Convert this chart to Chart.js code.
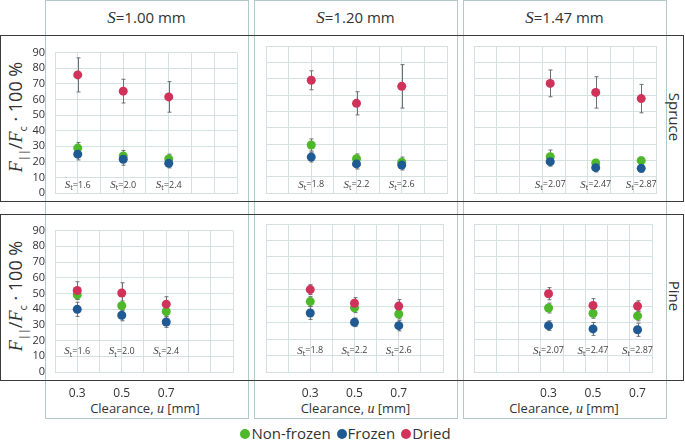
<!DOCTYPE html>
<html lang="en">
<head>
<meta charset="UTF-8">
<title>Relative force vs clearance</title>
<script src="https://cdn.jsdelivr.net/npm/chart.js"></script>
<style>
  body { margin: 0; background: #fff; font-family: 'Open Sans', sans-serif; color: #333; }
  #fig { position: relative; width: 685px; height: 445px; overflow: hidden; }
  .col { position: absolute; top: 0; height: 419px; border: 1px solid #b3c8c8; box-sizing: border-box; }
  .row { position: absolute; left: 0; width: 684px; border: 1px solid #3a3a3a; box-sizing: border-box; }
  .head { position: absolute; top: 0; height: 35px; line-height: 35px; text-align: center; font-size: 15px; }
  .it { font-family: 'Liberation Serif', serif; font-style: italic; }
  .ytitle { position: absolute; width: 160px; height: 26px; line-height: 26px; text-align: center;
            font-size: 18px; transform: rotate(-90deg); white-space: nowrap; }
  .ytitle sub { font-size: 11px; }
  .wood { position: absolute; width: 100px; height: 20px; line-height: 20px; text-align: center;
          font-size: 15px; transform: rotate(90deg); }
  .xtitle { position: absolute; top: 399px; width: 200px; text-align: center; font-size: 13px; }
  .legend { position: absolute; left: 0; top: 422px; width: 685px; display: flex; justify-content: center;
            font-size: 15px; line-height: 22px; }
  .legend span.dot { display: inline-block; width: 10px; height: 10px; border-radius: 50%; margin: 0 1px 0 6px; }
  canvas { position: absolute; }
</style>
</head>
<body>
<div id="fig"></div>
<script>
  // x values and labels
  const clearance = [0.3, 0.5, 0.7];
  const xTickLabels = [0.3, 0.5, 0.7];
  const xRanges = [[0.2, 1.0], [0.1, 0.9], [-0.035, 0.765]];
  const spacings = ['1.00', '1.20', '1.47'];
  const teethSpacing = [['1.6', '2.0', '2.4'], ['1.8', '2.2', '2.6'], ['2.07', '2.47', '2.87']];
  const woods = ['Spruce', 'Pine'];
  const seriesNames = ['Non-frozen', 'Frozen', 'Dried'];
  const seriesColors = ['#4db829', '#1f5a93', '#d0325a'];

  // values per S column (1.00, 1.20, 1.47), each at u = 0.3, 0.5, 0.7
  const spruceNonFrozen = [[28.8, 23.7, 21.8], [29.4, 21.0, 18.8], [22.2, 18.4, 19.8]];
  const spruceNonFrozenErr = [[3.6, 3.6, 3.1], [3.7, 2.9, 3.2], [4.1, 2.2, 2.2]];
  const spruceFrozen = [[24.9, 21.6, 19.0], [22.0, 17.8, 17.1], [19.2, 15.5, 15.1]];
  const spruceFrozenErr = [[3.7, 3.8, 2.9], [3.0, 3.1, 3.0], [2.7, 2.6, 2.4]];
  const spruceDried = [[75.7, 65.3, 61.6], [69.0, 54.9, 65.3], [67.1, 61.6, 57.8]];
  const spruceDriedErr = [[10.9, 7.6, 9.8], [5.8, 7.1, 13.3], [8.2, 9.6, 8.7]];

  const pineNonFrozen = [[49.1, 42.2, 38.5], [42.8, 39.1, 35.3], [38.9, 35.7, 34.1]];
  const pineNonFrozenErr = [[3.0, 3.0, 3.0], [3.0, 3.0, 3.0], [3.0, 3.0, 3.0]];
  const pineFrozen = [[39.9, 36.1, 31.8], [35.9, 30.2, 28.2], [28.2, 26.2, 25.7]];
  const pineFrozenErr = [[4.5, 3.5, 3.4], [3.9, 2.6, 3.2], [2.9, 3.9, 4.0]];
  const pineDried = [[51.9, 50.3, 43.2], [50.1, 41.8, 40.1], [47.6, 40.5, 40.1]];
  const pineDriedErr = [[5.5, 6.5, 4.7], [3.0, 3.4, 3.9], [3.7, 4.1, 3.2]];

  const yMin = 0, yMax = 90, yStep = 10;
  const stLabelY = [5, 13];

  const rowValues = [[spruceNonFrozen, spruceFrozen, spruceDried], [pineNonFrozen, pineFrozen, pineDried]];
  const rowErrors = [[spruceNonFrozenErr, spruceFrozenErr, spruceDriedErr], [pineNonFrozenErr, pineFrozenErr, pineDriedErr]];

  // layout (pixels)
  const plotX = [[55, 237], [266, 447], [474, 656]];
  const plotY = [[46, 193], [224, 372]];
  const colBox = [[45, 248], [254, 457], [463, 666]];
  const rowBox = [[35, 202], [214, 381]];
  const gridColor = '#d3e1e1';

  const fig = document.getElementById('fig');
  function add(html) { fig.insertAdjacentHTML('beforeend', html); }

  colBox.forEach((b, i) => {
    add(`<div class="col" style="left:${b[0]}px;width:${b[1] - b[0] + 1}px"></div>`);
    add(`<div class="head" style="left:${b[0]}px;width:${b[1] - b[0]}px"><span class="it" style="font-size:17px">S</span>=${spacings[i]} mm</div>`);
    add(`<div class="xtitle" style="left:${(plotX[i][0] + plotX[i][1]) / 2 - 100 - 1}px">Clearance, <span class="it" style="font-size:14px">u</span> [mm]</div>`);
  });
  rowBox.forEach((b, r) => {
    add(`<div class="row" style="top:${b[0]}px;height:${b[1] - b[0]}px"></div>`);
    const cy = (b[0] + b[1]) / 2 - 2;
    add(`<div class="ytitle" style="left:${15 - 80}px;top:${cy - 13}px"><span class="it">F</span><sub>||</sub>/<span class="it">F</span><sub>c</sub> · 100 %</div>`);
    add(`<div class="wood" style="left:${675 - 50}px;top:${cy - 10}px">${woods[r]}</div>`);
  });
  add(`<div class="legend">${seriesNames.map((n, k) =>
    `<span><span class="dot" style="background:${seriesColors[k]}"></span>${n}</span>`).join('')}</div>`);

  // error bars drawn under the points
  const errorBars = {
    id: 'errorBars',
    beforeDatasetsDraw(chart) {
      const ctx = chart.ctx, ys = chart.scales.y;
      ctx.save();
      ctx.strokeStyle = '#6a7075';
      ctx.lineWidth = 1;
      chart.data.datasets.forEach((ds, i) => {
        const meta = chart.getDatasetMeta(i);
        ds.data.forEach((p, j) => {
          const x = Math.round(meta.data[j].x) + 0.5;
          const t = ys.getPixelForValue(p.y + ds.errors[j]);
          const b = ys.getPixelForValue(p.y - ds.errors[j]);
          ctx.beginPath();
          ctx.moveTo(x, t); ctx.lineTo(x, b);
          ctx.moveTo(x - 2, t); ctx.lineTo(x + 2, t);
          ctx.moveTo(x - 2, b); ctx.lineTo(x + 2, b);
          ctx.stroke();
        });
      });
      ctx.restore();
    }
  };

  // S_t annotations
  const stLabels = {
    id: 'stLabels',
    afterDatasetsDraw(chart, args, opts) {
      const ctx = chart.ctx;
      const y = chart.scales.y.getPixelForValue(opts.yValue);
      ctx.save();
      ctx.fillStyle = '#444';
      ctx.textBaseline = 'middle';
      ctx.textAlign = 'left';
      opts.values.forEach((v, j) => {
        const x = chart.scales.x.getPixelForValue(clearance[j]);
        const fS = 'italic 11px "Liberation Serif"', fT = '7px "Open Sans"', fV = '9px "Open Sans"';
        ctx.font = fS; const wS = ctx.measureText('S').width;
        ctx.font = fT; const wT = ctx.measureText('t').width;
        ctx.font = fV; const wV = ctx.measureText('=' + v).width;
        let sx = x - (wS + wT + wV) / 2;
        ctx.font = fS; ctx.fillText('S', sx, y); sx += wS;
        ctx.font = fT; ctx.fillText('t', sx, y + 3); sx += wT;
        ctx.font = fV; ctx.fillText('=' + v, sx, y);
      });
      ctx.restore();
    }
  };

  function near(a, b) { return Math.abs(a - b) < 1e-6; }

  function makePanel(r, c) {
    const [x0, x1] = plotX[c], [y0, y1] = plotY[r];
    const padL = 30, padT = 10, padR = 10, padB = 30;
    const cv = document.createElement('canvas');
    cv.width = x1 - x0 + padL + padR;
    cv.height = y1 - y0 + padT + padB;
    cv.style.left = (x0 - padL) + 'px';
    cv.style.top = (y0 - padT) + 'px';
    fig.appendChild(cv);

    const [xmin, xmax] = xRanges[c];
    const gridVals = [];
    for (let k = 0; k <= 8; k++) gridVals.push(Math.round((xmin + 0.1 * k) * 1000) / 1000);
    const tickVals = gridVals.concat(xTickLabels.filter(v => !gridVals.some(g => near(g, v)))).sort((a, b) => a - b);

    new Chart(cv, {
      type: 'scatter',
      data: {
        datasets: seriesNames.map((name, k) => ({
          label: name,
          data: clearance.map((x, j) => ({ x: x, y: rowValues[r][k][c][j] })),
          errors: rowErrors[r][k][c],
          backgroundColor: seriesColors[k],
          borderWidth: 0,
          pointRadius: 4.5,
          order: 3 - k
        }))
      },
      options: {
        responsive: false,
        animation: false,
        layout: { padding: { top: padT, right: padR, left: 0, bottom: 0 } },
        plugins: {
          legend: { display: false },
          tooltip: { enabled: false },
          stLabels: { values: teethSpacing[c], yValue: stLabelY[r] }
        },
        scales: {
          x: {
            type: 'linear', min: xmin, max: xmax,
            afterBuildTicks: s => { s.ticks = tickVals.map(v => ({ value: v })); },
            afterFit: s => { s.height = padB; },
            grid: {
              color: ctx => (ctx.tick && gridVals.some(g => near(g, ctx.tick.value))) ? gridColor : 'rgba(0,0,0,0)',
              drawTicks: false
            },
            border: { color: gridColor },
            ticks: {
              display: r === 1, autoSkip: false, maxRotation: 0, padding: 14,
              font: { size: 12, family: "'Open Sans', sans-serif" }, color: '#333',
              callback: v => xTickLabels.some(t => near(t, v)) ? v.toFixed(1) : ''
            }
          },
          y: {
            min: yMin, max: yMax,
            afterFit: s => { s.width = padL; },
            grid: { color: gridColor, drawTicks: false },
            border: { color: gridColor },
            ticks: {
              stepSize: yStep, autoSkip: false, display: c === 0, padding: 10,
              font: { size: 11, family: "'Open Sans', sans-serif" }, color: '#333'
            }
          }
        }
      },
      plugins: [errorBars, stLabels]
    });
  }

  for (let r = 0; r < 2; r++) for (let c = 0; c < 3; c++) makePanel(r, c);
</script>
</body>
</html>
